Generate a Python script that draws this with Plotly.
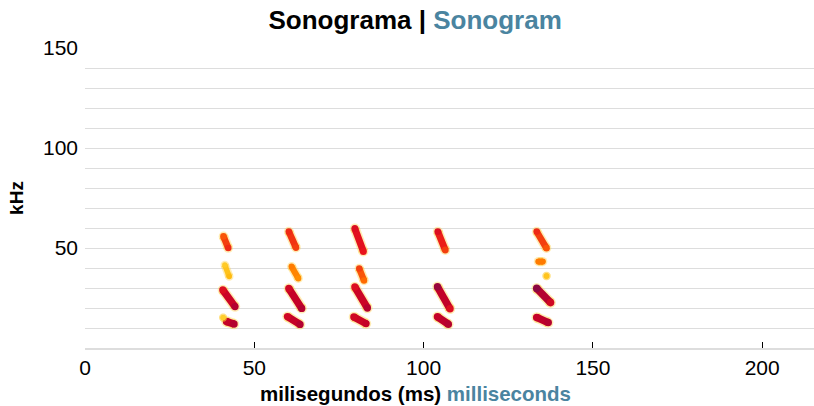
import plotly.graph_objects as go
from plotly.colors import sample_colorscale

# each blob of the call: start/end time (ms), start/end frequency (kHz), intensity at start/end
blob_t0 = [40.9, 41.3, 40.7, 41.8, 40.8,
           60.2, 61.0, 60.2, 59.8,
           79.7, 81.0, 79.7, 79.4,
           104.2, 104.1, 104.1,
           133.4, 133.9, 136.3, 133.4, 133.4]
blob_f0 = [55.8, 41.5, 29.0, 13.2, 15.2,
           58.2, 40.7, 29.8, 15.7,
           59.7, 39.7, 30.5, 15.5,
           58.2, 30.6, 15.6,
           58.2, 43.2, 36.0, 29.8, 15.3]
blob_t1 = [42.3, 42.6, 44.3, 44.0, 40.8,
           62.3, 63.0, 64.0, 63.5,
           82.2, 82.4, 83.4, 83.0,
           106.4, 107.8, 107.3,
           136.3, 135.2, 136.3, 137.5, 136.8]
blob_f1 = [50.0, 35.7, 20.7, 12.0, 15.2,
           50.2, 34.8, 19.8, 11.8,
           48.3, 33.8, 20.0, 12.2,
           49.0, 19.6, 11.9,
           49.9, 43.2, 36.0, 22.7, 12.7]
blob_i0 = [0.50, 0.12, 0.70, 0.80, 0.10,
           0.60, 0.40, 0.75, 0.75,
           0.70, 0.55, 0.70, 0.75,
           0.70, 0.92, 0.80,
           0.60, 0.40, 0.15, 0.95, 0.80]
blob_i1 = [0.60, 0.20, 0.85, 0.85, 0.10,
           0.55, 0.35, 0.85, 0.85,
           0.65, 0.45, 0.85, 0.80,
           0.55, 0.70, 0.85,
           0.50, 0.40, 0.15, 0.75, 0.85]

x_ticks = [0, 50, 100, 150, 200]
y_ticks = [50, 100, 150]

heat = [[0.0, "#ffe24a"], [0.25, "#ffb000"], [0.45, "#ff6a00"],
        [0.65, "#e8141c"], [0.82, "#c0002a"], [1.0, "#7a0a4a"]]

FONT = "Liberation Sans, Arial, Helvetica, sans-serif"
TEAL = "#4a84a0"

fig = go.Figure()

for t0, f0, t1, f1, i0, i1 in zip(blob_t0, blob_f0, blob_t1, blob_f1, blob_i0, blob_i1):
    mean_i = (i0 + i1) / 2
    w = 5 + 3 * mean_i
    c0, c1, cm = sample_colorscale(heat, [i0, i1, mean_i])
    # soft yellow fringe
    fig.add_trace(go.Scatter(
        x=[t0, t1], y=[f0, f1], mode="lines+markers",
        line=dict(color="rgba(255,200,40,0.35)", width=w + 3),
        marker=dict(color="rgba(255,200,40,0.35)", size=w + 3),
        hoverinfo="skip", showlegend=False))
    fig.add_trace(go.Scatter(
        x=[t0, t1], y=[f0, f1], mode="lines+markers",
        line=dict(color=cm, width=w),
        marker=dict(color=[c0, c1], size=w, line=dict(width=0)),
        hovertemplate="%{x:.1f} ms<br>%{y:.1f} kHz<extra></extra>",
        showlegend=False))

fig.update_layout(
    width=814, height=406,
    margin=dict(l=85, r=0, t=48, b=58),
    paper_bgcolor="white", plot_bgcolor="white",
    font=dict(family=FONT, color="black", size=20),
    title=dict(
        text="<b>Sonograma | <span style='color:%s'>Sonogram</span></b>" % TEAL,
        x=0.51, xref="container", xanchor="center",
        y=0.95, yanchor="middle", font=dict(size=26)),
    xaxis=dict(
        range=[0, 215.3], tickvals=x_ticks, showgrid=False, zeroline=False,
        showline=True, linecolor="#dddddd", linewidth=2,
        ticks="inside", ticklen=6, tickcolor="black", tickwidth=1,
        tickfont=dict(size=21)),
    yaxis=dict(
        range=[0, 150], tickvals=y_ticks, showgrid=True, gridcolor="#dddddd",
        gridwidth=1, zeroline=False, showline=False, ticks="",
        ticklabelstandoff=6,
        minor=dict(dtick=10, tick0=0, showgrid=True, gridcolor="#dddddd", gridwidth=1),
        tickfont=dict(size=21),
        title=dict(text="<b>kHz</b>", font=dict(size=19), standoff=14)),
    annotations=[dict(
        text="<b>milisegundos (ms) <span style='color:%s'>milliseconds</span></b>" % TEAL,
        xref="paper", yref="paper", x=0.453, y=-0.15,
        xanchor="center", yanchor="middle", showarrow=False,
        font=dict(size=20.5))],
)

fig.write_html("out.html", config={"displayModeBar": False},
               post_script="document.body.style.margin='0';")
